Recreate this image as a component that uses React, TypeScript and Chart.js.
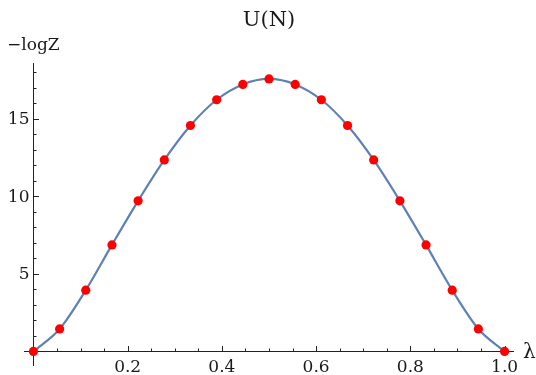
import React, { useEffect, useRef } from "react";
import { Chart, registerables } from "chart.js";

Chart.register(...registerables);

// λ values of the sampled points
const lambdaValues = [
  0, 0.0556, 0.1111, 0.1667, 0.2222, 0.2778, 0.3333, 0.3889, 0.4444, 0.5,
  0.5556, 0.6111, 0.6667, 0.7222, 0.7778, 0.8333, 0.8889, 0.9444, 1.0,
];
// −logZ values
const negLogZ = [
  0, 1.45, 3.95, 6.87, 9.71, 12.35, 14.57, 16.23, 17.22, 17.57, 17.22, 16.23,
  14.57, 12.35, 9.71, 6.87, 3.95, 1.45, 0,
];

const xTickValues = [0.2, 0.4, 0.6, 0.8, 1.0];
const xTickLabels = ["0.2", "0.4", "0.6", "0.8", "1.0"];
const yTickValues = [5, 10, 15];
const yTickLabels = ["5", "10", "15"];

const titleText = "U(N)";
const yAxisTitle = "\u2212logZ";
const xAxisTitle = "\u03bb";

const FONT = "'DejaVu Serif', serif";

const axesPlugin = {
  id: "mmaAxes",
  beforeDatasetsDraw(chart: any) {
    const { ctx, chartArea, scales } = chart;
    const xs = scales.x;
    const ys = scales.y;
    const x0 = Math.round(xs.getPixelForValue(0)) + 0.5;
    const y0 = Math.round(ys.getPixelForValue(0)) + 0.5;
    ctx.save();
    ctx.strokeStyle = "#222";
    ctx.lineWidth = 1;
    ctx.beginPath();
    ctx.moveTo(chartArea.left, y0);
    ctx.lineTo(chartArea.right, y0);
    ctx.moveTo(x0, chartArea.top);
    ctx.lineTo(x0, chartArea.bottom);
    // x ticks (minor every 0.05, major every 0.2)
    for (let i = 1; i <= 20; i++) {
      const v = i * 0.05;
      const major = i % 4 === 0;
      const px = Math.round(xs.getPixelForValue(v)) + 0.5;
      ctx.moveTo(px, y0);
      ctx.lineTo(px, y0 - (major ? 5.5 : 3));
    }
    // y ticks (minor every 1, major every 5)
    for (let i = 1; i <= 18; i++) {
      const major = i % 5 === 0;
      const py = Math.round(ys.getPixelForValue(i)) + 0.5;
      ctx.moveTo(x0, py);
      ctx.lineTo(x0 + (major ? 5.5 : 3), py);
    }
    ctx.stroke();

    ctx.fillStyle = "#1a1a1a";
    ctx.font = `17px ${FONT}`;
    ctx.textAlign = "center";
    ctx.textBaseline = "alphabetic";
    xTickValues.forEach((v, i) => {
      ctx.fillText(xTickLabels[i], xs.getPixelForValue(v), 372);
    });
    ctx.textAlign = "right";
    ctx.textBaseline = "middle";
    yTickValues.forEach((v, i) => {
      ctx.fillText(yTickLabels[i], 29.5, ys.getPixelForValue(v) + 1);
    });

    ctx.textAlign = "left";
    ctx.textBaseline = "alphabetic";
    ctx.fillText(yAxisTitle, 7, 50);
    ctx.font = `20px ${FONT}`;
    ctx.fillText(xAxisTitle, 523, 358);

    ctx.font = `21px ${FONT}`;
    ctx.textAlign = "center";
    ctx.fillText(titleText, (chartArea.left + chartArea.right) / 2, 26);
    ctx.restore();
  },
};

export default function App() {
  const canvasRef = useRef<HTMLCanvasElement | null>(null);

  useEffect(() => {
    const canvas = canvasRef.current;
    if (!canvas) return;
    const points = lambdaValues.map((x, i) => ({ x, y: negLogZ[i] }));
    const chart = new Chart(canvas, {
      type: "scatter",
      data: {
        datasets: [
          {
            data: points,
            showLine: true,
            borderColor: "#5E81B5",
            borderWidth: 2.2,
            cubicInterpolationMode: "monotone",
            pointRadius: 4.6,
            pointHoverRadius: 4.6,
            pointBackgroundColor: "#FF0000",
            pointBorderWidth: 0,
            pointBorderColor: "#FF0000",
            clip: false,
          } as any,
        ],
      },
      options: {
        responsive: false,
        devicePixelRatio: 1,
        animation: false,
        events: [],
        layout: { padding: { left: 24, right: 22, top: 63, bottom: 9 } },
        plugins: {
          legend: { display: false },
          title: { display: false },
          tooltip: { enabled: false },
        },
        scales: {
          x: { type: "linear", display: false, min: -0.02, max: 1.02 },
          y: { type: "linear", display: false, min: -0.94, max: 18.6 },
        },
      },
      plugins: [axesPlugin],
    });
    return () => chart.destroy();
  }, []);

  return (
    <div style={{ position: "absolute", left: 0, top: 0, width: 536, height: 375, background: "#fff" }}>
      <canvas ref={canvasRef} width={536} height={375} style={{ display: "block" }} />
    </div>
  );
}
